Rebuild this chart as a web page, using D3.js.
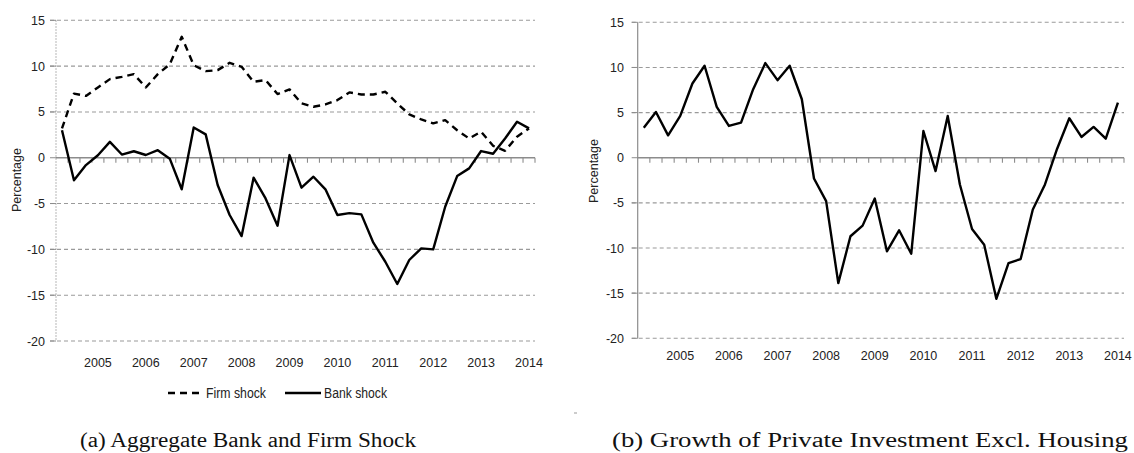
<!DOCTYPE html>
<html>
<head>
<meta charset="utf-8">
<script src="https://cdn.jsdelivr.net/npm/d3@7"></script>
<style>
  body { margin: 0; background: #fff; }
  svg { display: block; }
</style>
</head>
<body>
<div id="chart"></div>
<script>
// quarterly data, 2004Q2 - 2014Q1
const quarters = [
  "2004Q2","2004Q3","2004Q4","2005Q1","2005Q2","2005Q3","2005Q4","2006Q1",
  "2006Q2","2006Q3","2006Q4","2007Q1","2007Q2","2007Q3","2007Q4","2008Q1",
  "2008Q2","2008Q3","2008Q4","2009Q1","2009Q2","2009Q3","2009Q4","2010Q1",
  "2010Q2","2010Q3","2010Q4","2011Q1","2011Q2","2011Q3","2011Q4","2012Q1",
  "2012Q2","2012Q3","2012Q4","2013Q1","2013Q2","2013Q3","2013Q4","2014Q1"
];
const yearLabels = ["2005","2006","2007","2008","2009","2010","2011","2012","2013","2014"];
const yTicks = [15, 10, 5, 0, -5, -10, -15, -20];

const firmShock = [
  3.2, 7.0, 6.75, 7.67, 8.58, 8.83, 9.12, 7.67, 9.12, 10.2,
  13.2, 10.1, 9.45, 9.56, 10.36, 9.92, 8.29, 8.47, 6.95, 7.46,
  5.93, 5.56, 5.82, 6.29, 7.13, 6.9, 6.9, 7.2, 5.93, 4.73,
  4.18, 3.75, 4.1, 3.0, 2.1, 2.84, 1.3, 0.76, 2.3, 3.2
];
const bankShock = [
  3.0, -2.46, -0.8, 0.27, 1.73, 0.35, 0.71, 0.3, 0.82, -0.1,
  -3.44, 3.3, 2.55, -2.98, -6.25, -8.55, -2.18, -4.44, -7.42, 0.29,
  -3.27, -2.07, -3.45, -6.25, -6.04, -6.18, -9.27, -11.35, -13.78, -11.16,
  -9.89, -10.0, -5.35, -2.0, -1.16, 0.73, 0.44, 2.1, 3.93, 3.2
];
const investment = [
  3.33, 5.07, 2.48, 4.63, 8.22, 10.19, 5.63, 3.52, 3.89, 7.59,
  10.48, 8.59, 10.19, 6.48, -2.3, -4.81, -13.89, -8.7, -7.52, -4.52,
  -10.37, -8.04, -10.63, 2.96, -1.48, 4.63, -2.96, -7.89, -9.63, -15.63,
  -11.67, -11.22, -5.74, -2.96, 1.0, 4.37, 2.3, 3.41, 2.11, 6.11
];

const width = 1134;
const height = 453;

const svg = d3.select("#chart")
  .append("svg")
  .attr("width", width)
  .attr("height", height);

const tickFont = "'Liberation Sans', Arial, sans-serif";

function drawPanel(p) {
  const g = svg.append("g");

  const x = d3.scaleBand().domain(quarters).range([p.left, p.right]).padding(0);
  const y = d3.scaleLinear().domain([-20, 15]).range([p.bottom, p.top]);

  // horizontal gridlines
  g.selectAll(".grid")
    .data(yTicks.filter(d => d !== 0))
    .join("line")
    .attr("x1", p.left - 6)
    .attr("x2", p.right)
    .attr("y1", d => y(d))
    .attr("y2", d => y(d))
    .attr("stroke", "#9a9a9a")
    .attr("stroke-width", 1.1)
    .attr("stroke-dasharray", "4,3");

  // y axis line
  g.append("line")
    .attr("x1", p.left).attr("x2", p.left)
    .attr("y1", y(15)).attr("y2", y(-20))
    .attr("stroke", p.dottedAxis ? "#b5b5b5" : "#8c8c8c")
    .attr("stroke-width", p.dottedAxis ? 1.3 : 1.2)
    .attr("stroke-dasharray", p.dottedAxis ? "1.5,1.5" : null);

  // y ticks and labels
  g.selectAll(".ytick")
    .data(yTicks)
    .join("line")
    .attr("x1", p.left - 6).attr("x2", p.left)
    .attr("y1", d => y(d)).attr("y2", d => y(d))
    .attr("stroke", "#8c8c8c");

  g.selectAll(".ylab")
    .data(yTicks)
    .join("text")
    .attr("x", p.labelRight)
    .attr("y", d => y(d) + 4.5)
    .attr("text-anchor", "end")
    .attr("font-family", tickFont)
    .attr("font-size", 12.5)
    .attr("fill", "#222")
    .text(d => d);

  // zero line with quarter ticks
  g.append("line")
    .attr("x1", p.left).attr("x2", p.right)
    .attr("y1", y(0)).attr("y2", y(0))
    .attr("stroke", "#8c8c8c")
    .attr("stroke-width", 1.5);

  g.selectAll(".xtick")
    .data(quarters)
    .join("line")
    .attr("x1", d => x(d) + x.bandwidth())
    .attr("x2", d => x(d) + x.bandwidth())
    .attr("y1", y(0))
    .attr("y2", y(0) + 5)
    .attr("stroke", "#8c8c8c")
    .attr("stroke-width", 1.1);

  // year labels at Q1
  g.selectAll(".xlab")
    .data(yearLabels)
    .join("text")
    .attr("x", d => x(d + "Q1") + x.bandwidth() / 2)
    .attr("y", p.yearY)
    .attr("text-anchor", "middle")
    .attr("font-family", tickFont)
    .attr("font-size", 12.5)
    .attr("fill", "#222")
    .text(d => d);

  // y title
  g.append("text")
    .attr("transform", `translate(${p.titleX},${p.titleY}) rotate(-90)`)
    .attr("text-anchor", "middle")
    .attr("font-family", tickFont)
    .attr("font-size", 12.5)
    .attr("fill", "#222")
    .text("Percentage");

  const line = d3.line()
    .x((d, i) => x(quarters[i]) + x.bandwidth() / 2)
    .y(d => y(d));

  p.series.forEach(s => {
    g.append("path")
      .datum(s.values)
      .attr("d", line)
      .attr("fill", "none")
      .attr("stroke", "#000")
      .attr("stroke-width", 2.4)
      .attr("stroke-linejoin", "round")
      .attr("stroke-dasharray", s.dashed ? "7,5" : null);
  });

  // caption
  svg.append("text")
    .attr("x", p.captionX)
    .attr("y", 447)
    .attr("text-anchor", "middle")
    .attr("font-family", "'Liberation Serif', 'Times New Roman', serif")
    .attr("font-size", 20)
    .attr("textLength", p.captionLen)
    .attr("lengthAdjust", "spacingAndGlyphs")
    .attr("fill", "#111")
    .text(p.caption);

  return x;
}

drawPanel({
  left: 56, right: 535, top: 20.3, bottom: 341,
  labelRight: 45, yearY: 367, titleX: 21, titleY: 180,
  dottedAxis: true,
  series: [
    { values: firmShock, dashed: true },
    { values: bankShock, dashed: false }
  ],
  caption: "(a)  Aggregate Bank and Firm Shock",
  captionX: 248, captionLen: 336
});

drawPanel({
  left: 637.7, right: 1124, top: 22.3, bottom: 338.3,
  labelRight: 624, yearY: 360, titleX: 598, titleY: 171,
  dottedAxis: false,
  series: [
    { values: investment, dashed: false }
  ],
  caption: "(b)  Growth of Private Investment Excl. Housing",
  captionX: 870, captionLen: 516
});

// legend for panel (a)
const legendItems = [
  { name: "Firm shock", dashed: true, x1: 168, x2: 203, len: 60 },
  { name: "Bank shock", dashed: false, x1: 285, x2: 321, len: 63 }
];
const legend = svg.append("g");
legend.selectAll("line")
  .data(legendItems)
  .join("line")
  .attr("x1", d => d.x1).attr("x2", d => d.x2)
  .attr("y1", 393).attr("y2", 393)
  .attr("stroke", "#000")
  .attr("stroke-width", 2.4)
  .attr("stroke-dasharray", d => d.dashed ? "7,5" : null);
legend.selectAll("text")
  .data(legendItems)
  .join("text")
  .attr("x", d => d.x2 + 3)
  .attr("y", 398)
  .attr("font-family", "'Liberation Sans Narrow', 'Arial Narrow', sans-serif")
  .attr("font-size", 14)
  .attr("textLength", d => d.len)
  .attr("lengthAdjust", "spacingAndGlyphs")
  .attr("fill", "#222")
  .text(d => d.name);

// stray mark between the panels
svg.append("line")
  .attr("x1", 574).attr("x2", 577)
  .attr("y1", 413).attr("y2", 413)
  .attr("stroke", "#999");
</script>
</body>
</html>
